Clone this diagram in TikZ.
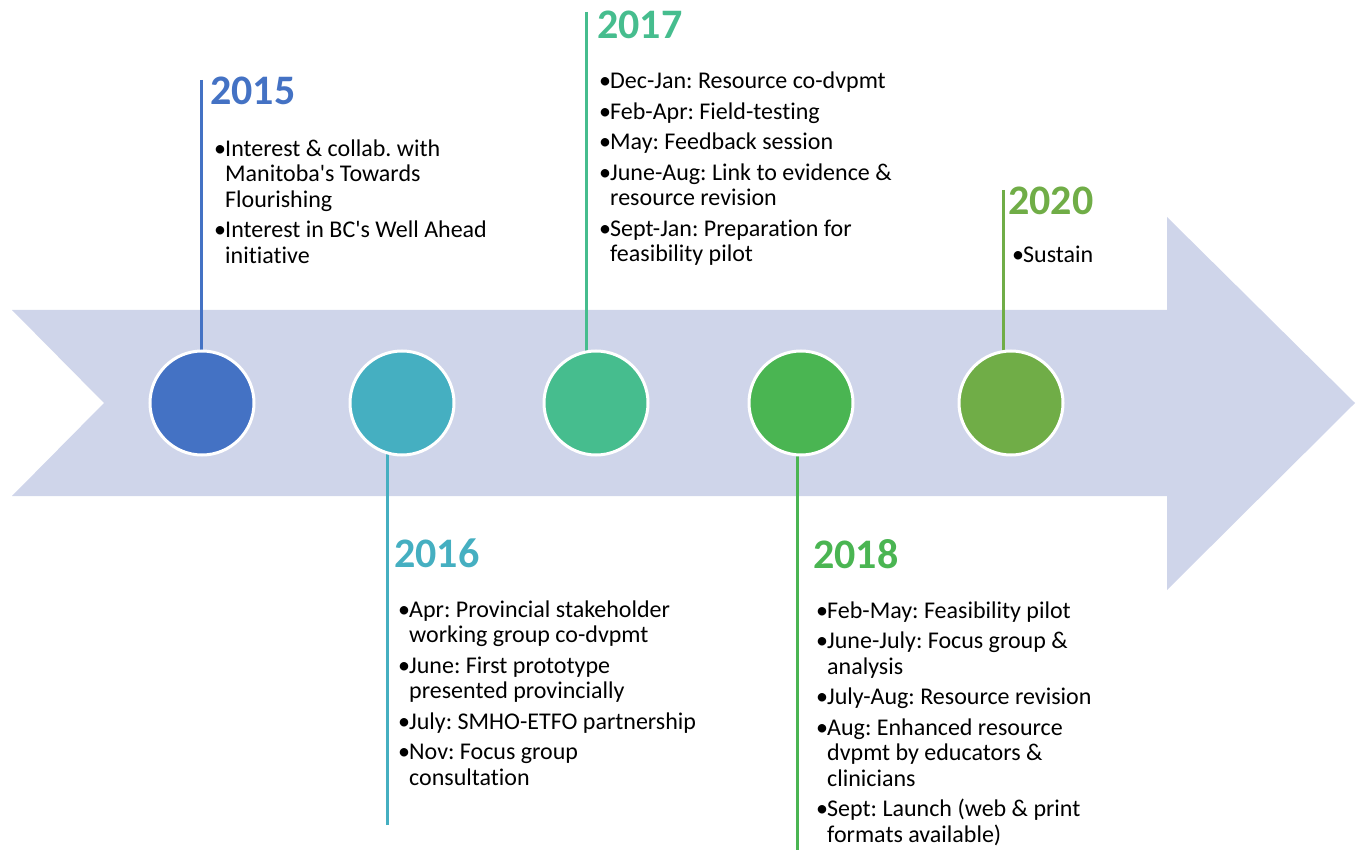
\documentclass[tikz,border=0pt]{standalone}
\usepackage{fontspec}
\setmainfont[Ligatures={NoCommon}]{Carlito}
\frenchspacing
\definecolor{band}{HTML}{CFD5EA}
\definecolor{yrA}{HTML}{4472C4}
\definecolor{yrB}{HTML}{45AFC1}
\definecolor{yrC}{HTML}{46BD8E}
\definecolor{yrD}{HTML}{4AB552}
\definecolor{yrE}{HTML}{70AD47}
\newcommand{\bu}{\makebox[11pt][l]{\textbullet}}
\newcommand{\ap}{\textquotesingle}
\newcommand{\tltext}[1]{\fontsize{24}{25.5}\selectfont\begin{tabular}[t]{@{}l@{}l@{}}#1\end{tabular}}
\begin{document}
\begin{tikzpicture}[x=1pt, y=-1pt,
    dot/.style={circle, fill=#1, draw=white, line width=3pt, minimum size=104pt, inner sep=0pt},
    stem/.style={draw=#1, line width=3pt},
    year/.style={anchor=base west, inner sep=0pt, text=#1, font=\fontsize{42}{42}\selectfont\bfseries},
    items/.style={anchor=base west, inner sep=0pt}]
    \useasboundingbox (0, 0) rectangle (1360, 850);
    % the big arrow
    \fill[band] (12, 310) -- (1167, 310) -- (1167, 217) -- (1355, 403) -- (1167, 590) -- (1167, 496) -- (12, 496) -- (104, 403) -- cycle;
    % free ends of the stems
    \coordinate (t15) at (201, 80);
    \coordinate (t16) at (387, 825);
    \coordinate (t17) at (586, 12);
    \coordinate (t18) at (797, 850);
    \coordinate (t20) at (1003, 190);
    \coordinate (axis) at (0, 403);
    \draw[stem=yrA] (t15) -- (t15 |- axis);
    \draw[stem=yrB] (t16) -- (t16 |- axis);
    \draw[stem=yrC] (t17) -- (t17 |- axis);
    \draw[stem=yrD] (t18) -- (t18 |- axis);
    \draw[stem=yrE] (t20) -- (t20 |- axis);
    % circles
    \node[dot=yrA] (c15) at (202, 403) {};
    \node[dot=yrB] (c16) at (402, 403) {};
    \node[dot=yrC] (c17) at (596, 403) {};
    \node[dot=yrD] (c18) at (801, 403) {};
    \node[dot=yrE] (c20) at (1011, 403) {};
    % years
    \node[year=yrA] (y15) at (210, 105) {2015};
    \node[year=yrB] (y16) at (394, 567) {2016};
    \node[year=yrC] (y17) at (597, 39) {2017};
    \node[year=yrD] (y18) at (813, 568) {2018};
    \node[year=yrE] (y20) at (1008, 215) {2020};
    % bullet lists
    \node[items] (l15) at (214, 156.5) {\tltext{\bu & Interest \& collab. with\\ & Manitoba\ap s Towards\\ & Flourishing\\[5pt]
        \bu & Interest in BC\ap s Well Ahead\\ & initiative}};
    \node[items] (l16) at (398, 617) {\tltext{\bu & Apr: Provincial stakeholder\\ & working group co-dvpmt\\[5pt]
        \bu & June: First prototype\\ & presented provincially\\[5pt]
        \bu & July: SMHO-ETFO partnership\\[5pt]
        \bu & Nov: Focus group\\ & consultation}};
    \node[items] (l17) at (599, 89) {\tltext{\bu & Dec-Jan: Resource co-dvpmt\\[5pt]
        \bu & Feb-Apr: Field-testing\\[5pt]
        \bu & May: Feedback session\\[5pt]
        \bu & June-Aug: Link to evidence \&\\ & resource revision\\[5pt]
        \bu & Sept-Jan: Preparation for\\ & feasibility pilot}};
    \node[items] (l18) at (816, 618) {\tltext{\bu & Feb-May: Feasibility pilot\\[5pt]
        \bu & June-July: Focus group \&\\ & analysis\\[5pt]
        \bu & July-Aug: Resource revision\\[5pt]
        \bu & Aug: Enhanced resource\\ & dvpmt by educators \&\\ & clinicians\\[5pt]
        \bu & Sept: Launch (web \& print\\ & formats available)}};
    \node[items] (l20) at (1012, 263) {\tltext{\bu & Sustain}};
\end{tikzpicture}
\end{document}
